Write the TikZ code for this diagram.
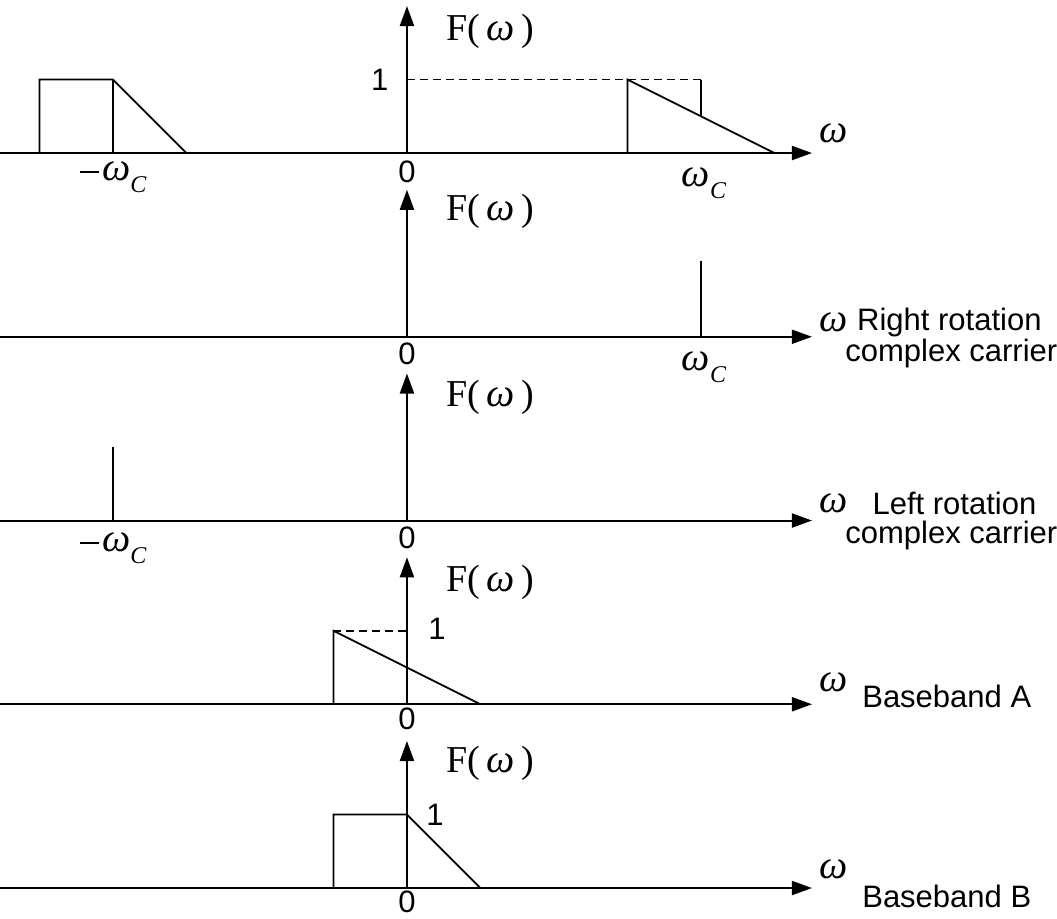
\documentclass[tikz,border=0pt]{standalone}
\usepackage{amsmath}
\usepackage{fontspec}
\setmainfont{Liberation Sans}
\newfontfamily\timesfont{Liberation Serif}
\usetikzlibrary{arrows.meta}

\newcommand{\om}{{\timesfont\itshape ω}}
\newcommand{\Fw}{{\timesfont F(\,{\fontsize{20}{22}\selectfont\itshape ω}\,)}}
\newcommand{\omC}{\om\raisebox{-0.3em}{\fontsize{12}{13}\selectfont\timesfont\itshape C}}
\newcommand{\mnus}{\rule[0.19em]{0.48em}{0.06em}\hspace{0.08em}}

\begin{document}
\begin{tikzpicture}[x=36.75pt, y=36.75pt,
    axis/.style={line width=1pt, -{Triangle[length=10pt,width=7pt]}},
    spec/.style={line width=0.9pt},
    guide/.style={line width=0.9pt, dash pattern=on 4pt off 2.5pt},
    lbl/.style={font=\fontsize{15.5}{18}\selectfont, inner sep=0pt},
    flbl/.style={font=\fontsize{19}{21}\selectfont, inner sep=0pt},
    wlbl/.style={font=\fontsize{20}{22}\selectfont, inner sep=0pt}]

    \useasboundingbox (-5.537,-10.408) rectangle (8.844,2.082);

    % --- Modulated spectrum ---
    \begin{scope}
        \draw[axis] (-5.54,0) -- (5.51,0); % frequency axis
        \draw[axis] (0,0) -- (0,2);         % amplitude axis
        \node[flbl] (F1) at (1.13,1.66) {\Fw};
        \node[wlbl] (w1) at (5.8,0.27) {\om};
        \node[lbl] (one1) at (-0.37,1) {1};
        \node[lbl] (zero1) at (0,-0.26) {0};
        \node[wlbl] (mwc1) at (-4,-0.33) {\mnus\omC};
        \node[wlbl] (wc1) at (4.04,-0.41) {\omC};
        % lower band
        \draw[spec] (-5,0) -- (-5,1) -- (-4,1) -- (-3,0);
        \draw[spec] (-4,0) -- (-4,1);
        % upper band
        \draw[guide] (0,1) -- (4,1);
        \draw[spec] (4,1) -- (4,0.5);
        \draw[spec] (3,0) -- (3,1) -- (5,0);
    \end{scope}

    % --- Right rotation carrier ---
    \begin{scope}[shift={(0,-2.5)}]
        \draw[axis] (-5.54,0) -- (5.51,0);
        \draw[axis] (0,0) -- (0,2);
        \node[flbl] (F2) at (1.13,1.71) {\Fw};
        \node[wlbl] (w2) at (5.8,0.2) {\om};
        \node[lbl, anchor=west] (rr) at (6.12,0.2) {Right rotation};
        \node[lbl, anchor=west] (cc2) at (5.96,-0.23) {complex carrier};
        \node[lbl] (zero2) at (0,-0.23) {0};
        \node[wlbl] (wc2) at (4.04,-0.41) {\omC};
        \draw[spec] (4,0) -- (4,1.03); % spectral line
    \end{scope}

    % --- Left rotation carrier ---
    \begin{scope}[shift={(0,-5)}]
        \draw[axis] (-5.54,0) -- (5.51,0);
        \draw[axis] (0,0) -- (0,2);
        \node[flbl] (F3) at (1.13,1.67) {\Fw};
        \node[wlbl] (w3) at (5.8,0.23) {\om};
        \node[lbl, anchor=west] (lr) at (6.33,0.23) {Left rotation};
        \node[lbl, anchor=west] (cc3) at (5.96,-0.2) {complex carrier};
        \node[lbl] (zero3) at (0,-0.23) {0};
        \node[wlbl] (mwc3) at (-4,-0.38) {\mnus\omC};
        \draw[spec] (-4,0) -- (-4,1.0); % spectral line
    \end{scope}

    % --- Baseband A ---
    \begin{scope}[shift={(0,-7.5)}]
        \draw[axis] (-5.54,0) -- (5.51,0);
        \draw[axis] (0,0) -- (0,2);
        \node[flbl] (F4) at (1.13,1.66) {\Fw};
        \node[wlbl] (w4) at (5.8,0.3) {\om};
        \node[lbl, anchor=west] (bA) at (6.19,0.11) {Baseband A};
        \node[lbl] (one4) at (0.41,1.02) {1};
        \node[lbl] (zero4) at (0,-0.2) {0};
        \draw[guide] (-1,1) -- (0,1);
        \draw[spec] (-1,0) -- (-1,1) -- (1,0);
    \end{scope}

    % --- Baseband B ---
    \begin{scope}[shift={(0,-10)}]
        \draw[axis] (-5.54,0) -- (5.51,0);
        \draw[axis] (0,0) -- (0,2);
        \node[flbl] (F5) at (1.13,1.69) {\Fw};
        \node[wlbl] (w5) at (5.8,0.26) {\om};
        \node[lbl, anchor=west] (bB) at (6.19,-0.11) {Baseband B};
        \node[lbl] (one5) at (0.38,1.0) {1};
        \node[lbl] (zero5) at (0,-0.19) {0};
        \draw[spec] (-1,0) -- (-1,1) -- (0,1) -- (1,0);
    \end{scope}

\end{tikzpicture}
\end{document}
